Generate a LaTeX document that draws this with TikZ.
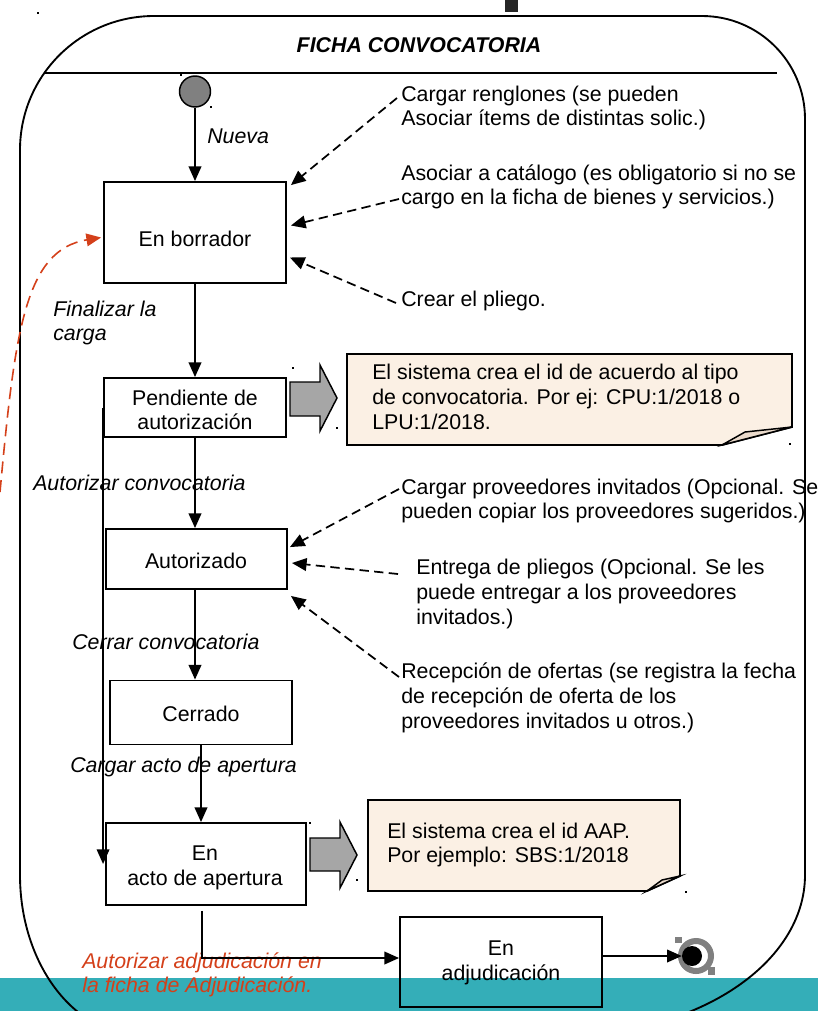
\documentclass[tikz,border=0pt]{standalone}
\usepackage{fontspec}
\setmainfont{Liberation Sans}
\usetikzlibrary{arrows.meta,calc}
\definecolor{teal1}{HTML}{34AEB8}
\definecolor{cream}{HTML}{FBF0E4}
\definecolor{foldc}{HTML}{EADACB}
\definecolor{blockg}{HTML}{A6A6A6}
\definecolor{initg}{HTML}{808080}
\definecolor{redo}{HTML}{D4401A}
\newcommand\px{0.75pt}
\begin{document}
\begin{tikzpicture}[x=0.75pt,y=-0.75pt,
  every node/.style={font=\fontsize{16}{18.5}\selectfont, inner sep=0pt},
  statebox/.style={draw, line width=1.4pt},
  stxt/.style={align=center},
  lbl/.style={anchor=west, align=left, font=\fontsize{16}{18.5}\selectfont\itshape},
  ann/.style={anchor=west, align=left},
  tip/.style={-{Triangle[length=11pt,width=9.5pt]}},
  flow/.style={tip, line width=1.2pt},
  dashflow/.style={tip, line width=1.3pt, dash pattern=on 7pt off 4pt},
  note/.style={draw, line width=1.4pt, fill=cream},
  fold/.style={draw, line width=1.1pt, fill=foldc},
  blockarrow/.style={draw, line width=1.1pt, fill=blockg},
  speck/.style={fill=black, inner sep=0pt, minimum size=1.6pt}
]
\useasboundingbox (0,0) rectangle (818,1011);
% background band
\fill[teal1] (0,978) rectangle (818,1015);
% container
\draw[line width=1.4pt] (20,875) -- (20,150) arc[start angle=180,end angle=270,radius=134]
  -- (702,16) arc[start angle=270,end angle=360,radius=103]
  -- (805,875) arc[start angle=0,end angle=90,x radius=240,y radius=160]
  -- (140,1035) arc[start angle=90,end angle=180,x radius=120,y radius=160] -- cycle;
\fill[black!85] (505,0) rectangle (518,12);
\node[font=\fontsize{16}{19}\selectfont\bfseries\itshape] (title) at (419,45) {FICHA CONVOCATORIA};
\draw[line width=1.4pt] (44,73) -- (777,73);

% states
\node[circle, draw, line width=1.1pt, fill=initg, minimum size=31*\px] (ini) at (195,91.5) {};
\node[statebox, minimum width=182*\px, minimum height=101*\px] (bor) at (195,232.5) {};
\node[statebox, minimum width=182*\px, minimum height=59*\px] (pend) at (195,407.5) {};
\node[statebox, minimum width=181*\px, minimum height=60*\px] (aut) at (196.5,559) {};
\node[statebox, minimum width=182*\px, minimum height=64*\px] (cer) at (201,712.5) {};
\node[statebox, minimum width=200*\px, minimum height=82*\px] (acto) at (206,864) {};
\node[statebox, minimum width=202*\px, minimum height=90*\px] (adj) at (501,962) {};
\draw[initg, line width=4.5pt] (696,956) circle[radius=15];
\fill[initg] (675,937) rectangle (682,943);
\fill[initg] (708,967) rectangle (715,975);
\node[circle, fill=black, minimum size=20*\px] (fin) at (692,956) {};

\node[stxt] (borT) at (195,239) {En borrador};
\node[stxt] (pendT) at (195,410) {Pendiente de\\autorización};
\node[stxt] (autT) at (196,561) {Autorizado};
\node[stxt] (cerT) at (201,714) {Cerrado};
\node[stxt] (actoT) at (205,868) {En\\acto de apertura};
\node[stxt] (adjT) at (501,963) {En\\adjudicación};

% transition labels
\node[lbl] (nue) at (207,136) {Nueva};
\node[lbl] (finl) at (53,323) {Finalizar la\\carga};
\node[lbl] (autc) at (33,483) {Autorizar convocatoria};
\node[lbl] (cerc) at (72,642) {Cerrar convocatoria};
\node[lbl] (carg) at (70,767) {Cargar acto de apertura};
\node[lbl, text=redo] (rt) at (82,975) {Autorizar adjudicación en\\la ficha de Adjudicación.};

% transitions
\draw[flow] (ini) -- (bor);
\draw[flow] (bor) -- (pend);
\draw[flow] (pend.south) -- (pend.south |- aut.north);
\draw[flow] (aut.south -| pend.south) -- (pend.south |- cer.north);
\draw[flow] (cer.south) -- (cer.south |- acto.north);
\draw[flow] (pend.west) -- (pend.west |- acto.west);
\draw[flow] ($(acto.south)+(-4,5)$) |- ($(adj.west)+(0,-4)$);
\draw[flow] (adj.east |- fin.west) -- (fin.west);
\coordinate (rs) at (0,492);
\draw[redo, tip, line width=1.2pt, dash pattern=on 9pt off 5pt] (rs) .. controls (15,330) and (25,250) .. ($(bor.west)+(-2,5)$);

% notes with block arrows
\draw[blockarrow] (290,382) -- (320,382) -- (320,365) -- (337,398) -- (320,431) -- (320,416) -- (290,416) -- cycle;
\draw[note] (347,354) -- (792,354) -- (792,427) -- (722,445) -- (347,445) -- cycle;
\draw[fold] (722,445) -- (745,432) -- (792,427) -- cycle;
\node[ann] (n1) at (372,397) {El sistema crea el id de acuerdo al tipo\\de convocatoria. Por ej: CPU:1/2018 o\\LPU:1/2018.};

\draw[blockarrow] (310,838) -- (340,838) -- (340,822) -- (357,855) -- (340,888) -- (340,871) -- (310,871) -- cycle;
\draw[note] (368,800) -- (680,800) -- (680,876) -- (647,891) -- (368,891) -- cycle;
\draw[fold] (647,891) -- (662,880) -- (680,876) -- cycle;
\node[ann] (n2) at (387,845) {El sistema crea el id AAP.\\Por ejemplo: SBS:1/2018};

% annotations
\node[ann] (a1) at (401,108) {Cargar renglones (se pueden\\Asociar ítems de distintas solic.)};
\node[ann] (a2) at (401,187) {Asociar a catálogo (es obligatorio si no se\\cargo en la ficha de bienes y servicios.)};
\node[ann] (a3) at (401,301) {Crear el pliego.};
\node[ann] (a4) at (401,501) {Cargar proveedores invitados (Opcional. Se\\pueden copiar los proveedores sugeridos.)};
\node[ann] (a5) at (416,594) {Entrega de pliegos (Opcional. Se les\\puede entregar a los proveedores\\invitados.)};
\node[ann] (a6) at (401,698) {Recepción de ofertas (se registra la fecha\\de recepción de oferta de los\\proveedores invitados u otros.)};

\draw[dashflow] ($(a1.west)+(-4,-10)$) -- ($(bor.north east)+(4,4)$);
\draw[dashflow] ($(a2.west)+(-2,12)$) -- ($(bor.east)+(4,-7)$);
\draw[dashflow] ($(a3.west)+(-5,2)$) -- ($(bor.east)+(3,25)$);
\draw[dashflow] ($(a4.west)+(-2,-12)$) -- ($(aut.north east)+(2,19)$);
\draw[dashflow] ($(a5.west)+(-18,-20)$) -- ($(aut.east)+(4,4)$);
\draw[dashflow] ($(a6.west)+(-2,-21)$) -- ($(aut.south east)+(3,6)$);

% specks
\foreach \p in {(38,13),(181,75),(211,107),(293,368),(337,428),(790,444),(310,823),(357,880),(686,892)}
  \node[speck] at \p {};
\end{tikzpicture}
\end{document}
